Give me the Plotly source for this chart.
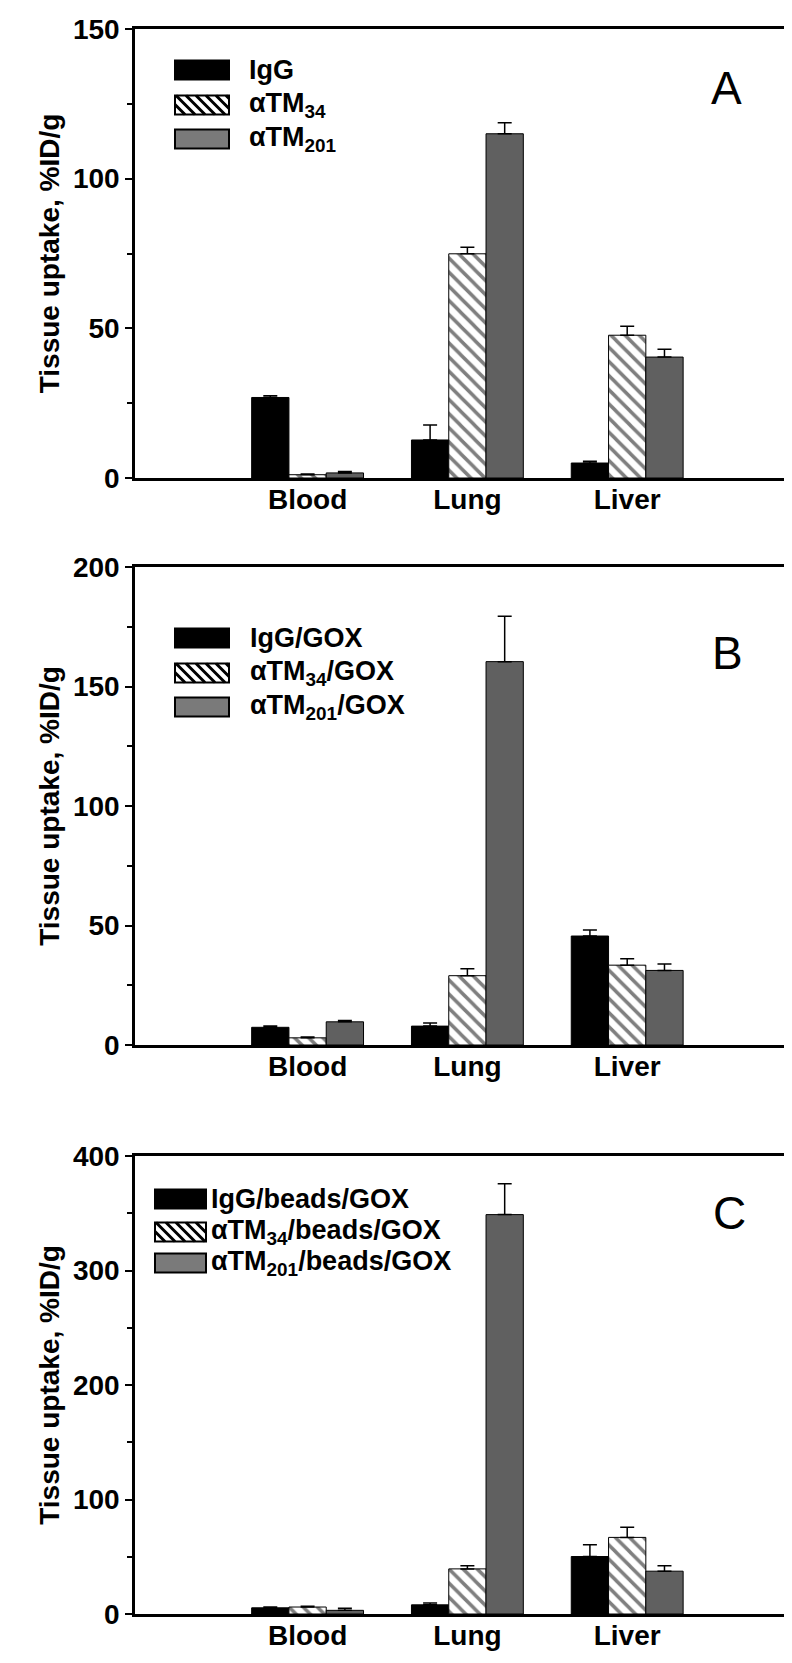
import plotly.graph_objects as go

# ---------------- data ----------------
tissues = ["Blood", "Lung", "Liver"]
tissue_pos = [1, 2, 3]

# Panel A
a_names = ["IgG", "αTM<sub>34</sub>", "αTM<sub>201</sub>"]
a_igg = [26.9, 12.7, 5.0]
a_tm34 = [1.1, 74.9, 47.7]
a_tm201 = [1.7, 115.0, 40.4]
a_igg_err = [0.6, 5.0, 0.6]
a_tm34_err = [0.2, 2.2, 3.0]
a_tm201_err = [0.5, 3.7, 2.6]

# Panel B
b_names = ["IgG/GOX", "αTM<sub>34</sub>/GOX", "αTM<sub>201</sub>/GOX"]
b_igg = [7.4, 7.9, 45.6]
b_tm34 = [3.0, 29.0, 33.4]
b_tm201 = [9.7, 160.4, 31.2]
b_igg_err = [0.5, 1.3, 2.5]
b_tm34_err = [0.3, 2.9, 2.7]
b_tm201_err = [0.5, 19.0, 2.7]

# Panel C
c_names = ["IgG/beads/GOX", "αTM<sub>34</sub>/beads/GOX", "αTM<sub>201</sub>/beads/GOX"]
c_igg = [5.4, 8.0, 50.2]
c_tm34 = [6.1, 39.4, 66.9]
c_tm201 = [3.2, 348.8, 37.4]
c_igg_err = [0.7, 1.6, 10.3]
c_tm34_err = [0.6, 2.8, 8.9]
c_tm201_err = [1.9, 27.0, 4.8]

# ---------------- layout geometry ----------------
W_FIG, H_FIG = 792, 1663
L, R, T, B = 127, 13, 21, 57
PW = W_FIG - L - R
PH = H_FIG - T - B

def pxx(x):
    return (x - L) / PW

def pxy(y):
    return (H_FIG - B - y) / PH

FONT = "Arial, Liberation Sans, Helvetica, sans-serif"
GRAY = "#606060"
GRAY_LEG = "#7a7a7a"

panels = [
    dict(names=a_names, vals=[a_igg, a_tm34, a_tm201], errs=[a_igg_err, a_tm34_err, a_tm201_err],
         top=21, bottom=470, yrange=[0, 150], dtick=50, minor=25, letter="A",
         leg_x0=167, leg_x1=221, leg_tx=239, leg_rows=[62, 97, 131], letter_xy=(718, 80)),
    dict(names=b_names, vals=[b_igg, b_tm34, b_tm201], errs=[b_igg_err, b_tm34_err, b_tm201_err],
         top=559, bottom=1037, yrange=[0, 200], dtick=50, minor=25, letter="B",
         leg_x0=167, leg_x1=221, leg_tx=240, leg_rows=[630, 665, 699], letter_xy=(719, 645)),
    dict(names=c_names, vals=[c_igg, c_tm34, c_tm201], errs=[c_igg_err, c_tm34_err, c_tm201_err],
         top=1148, bottom=1606, yrange=[0, 400], dtick=100, minor=50, letter="C",
         leg_x0=147, leg_x1=198, leg_tx=201, leg_rows=[1191, 1224, 1255], letter_xy=(721, 1205)),
]

fig = go.Figure()
shapes = []
annotations = []

styles = [
    dict(color="black", pattern=None),
    dict(color="white", pattern=dict(shape="\\", fgcolor="black", bgcolor="white", size=10, solidity=0.35)),
    dict(color=GRAY, pattern=None),
]

for i, p in enumerate(panels):
    n = "" if i == 0 else str(i + 1)
    xa, ya = "x" + n, "y" + n
    for k in range(3):
        marker = dict(color=styles[k]["color"], line=dict(color="black", width=1))
        if styles[k]["pattern"] is not None:
            marker["pattern"] = styles[k]["pattern"]
        fig.add_trace(go.Bar(
            x=tissue_pos, y=p["vals"][k], name=p["names"][k],
            marker=marker, xaxis=xa, yaxis=ya, showlegend=False,
            offsetgroup=str(k),
            error_y=dict(type="data", array=p["errs"][k], symmetric=False,
                         arrayminus=[0, 0, 0], color="black", thickness=1.5, width=7),
        ))
    axis_common = dict(showline=True, linewidth=2.5, linecolor="black", mirror=True,
                       showgrid=False, zeroline=False)
    fig.update_layout(**{
        "xaxis" + n: dict(axis_common, range=[-0.08, 4.0], tickmode="array",
                          tickvals=tissue_pos, ticktext=tissues, ticks="",
                          anchor=ya, domain=[0, 1],
                          tickfont=dict(family=FONT, size=28, color="black", weight="bold"),
                          ticklabelstandoff=-5),
        "yaxis" + n: dict(axis_common, range=p["yrange"], tickmode="linear", tick0=0,
                          dtick=p["dtick"], ticks="outside", ticklen=7, tickwidth=2,
                          tickcolor="black", anchor=xa,
                          domain=[pxy(p["bottom"]), pxy(p["top"])],
                          minor=dict(dtick=p["minor"], ticks="outside", ticklen=5,
                                     tickwidth=1.5, tickcolor="black"),
                          tickfont=dict(family=FONT, size=28, color="black", weight="bold"),
                          title=dict(text="Tissue uptake, %ID/g", standoff=6,
                                     font=dict(family=FONT, size=28, color="black", weight="bold"))),
    })

    # custom legend
    fills = ["black", "white", GRAY_LEG]
    for k, cy in enumerate(p["leg_rows"]):
        x0, x1 = p["leg_x0"], p["leg_x1"]
        top, bot = cy - 9.5, cy + 9.5
        shapes.append(dict(type="rect", xref="paper", yref="paper",
                           x0=pxx(x0), x1=pxx(x1), y0=pxy(bot), y1=pxy(top),
                           fillcolor=fills[k], line=dict(color="black", width=2)))
        if k == 1:
            h = bot - top
            path = ""
            c = x0 - h
            while c < x1:
                t0 = max(0.0, x0 - c)
                t1 = min(h, x1 - c)
                if t1 > t0:
                    xa0, ya0 = c + t0, top + t0
                    xa1, ya1 = c + t1, top + t1
                    path += "M%.5f,%.5f L%.5f,%.5f " % (pxx(xa0), pxy(ya0), pxx(xa1), pxy(ya1))
                c += 10
            shapes.append(dict(type="path", xref="paper", yref="paper", path=path,
                               line=dict(color="black", width=3)))
        annotations.append(dict(xref="paper", yref="paper", x=pxx(p["leg_tx"]), y=pxy(cy),
                                xanchor="left", yanchor="middle", showarrow=False,
                                text="<b>" + p["names"][k] + "</b>",
                                font=dict(family=FONT, size=27, color="black")))
    lx, ly = p["letter_xy"]
    annotations.append(dict(xref="paper", yref="paper", x=pxx(lx), y=pxy(ly),
                            xanchor="center", yanchor="middle", showarrow=False,
                            text=p["letter"],
                            font=dict(family=FONT, size=46, color="black")))

fig.update_layout(
    width=W_FIG, height=H_FIG,
    margin=dict(l=L, r=R, t=T, b=B, autoexpand=False),
    paper_bgcolor="white", plot_bgcolor="white",
    barmode="group", bargap=0.3, bargroupgap=0,
    shapes=shapes, annotations=annotations,
    font=dict(family=FONT, color="black"),
)

fig.write_html("out.html")
